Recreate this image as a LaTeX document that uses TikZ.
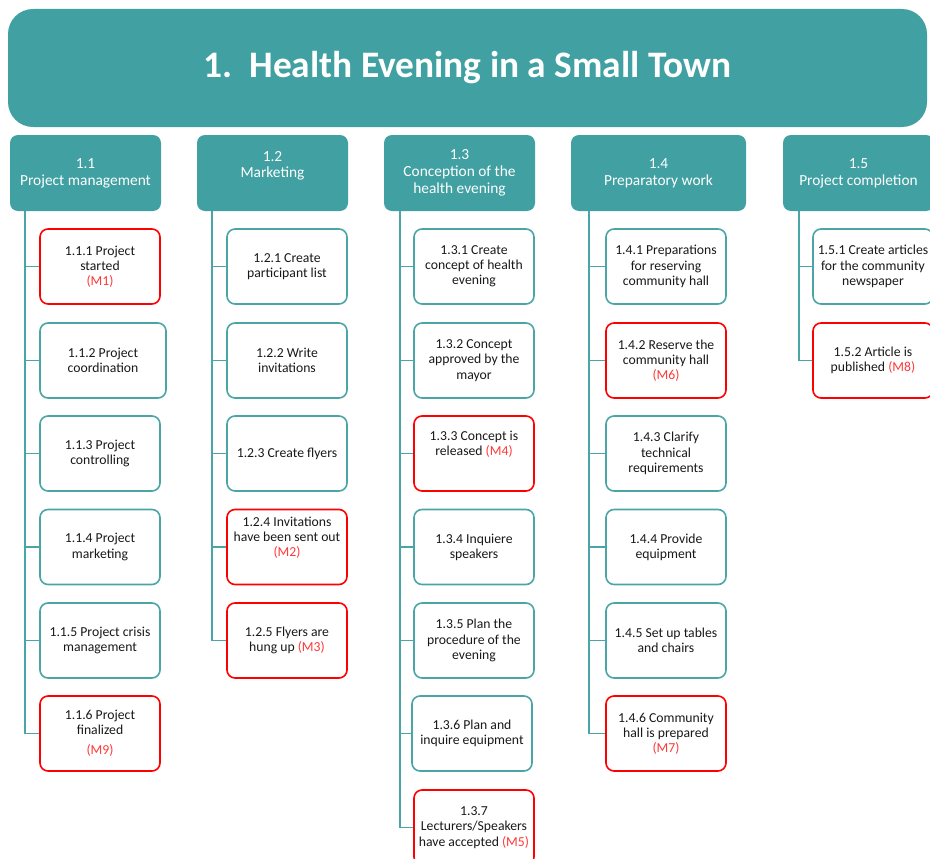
\documentclass[tikz,border=0pt]{standalone}
\usepackage{fontspec}
\setmainfont{Carlito}
\definecolor{teal1}{HTML}{40A0A2}
\definecolor{tealb}{HTML}{4AA5A7}
\definecolor{mred}{HTML}{FF0000}
\definecolor{mtxt}{HTML}{FF3838}
\newcommand{\ms}[1]{\textcolor{mtxt}{#1}}
\begin{document}
\begin{tikzpicture}[x=1pt,y=-1pt,
  titlebox/.style={fill=teal1,draw=none,rounded corners=25pt,minimum width=919pt,minimum height=118pt,inner sep=0pt,text=white,font=\fontsize{37.4}{44}\selectfont\bfseries},
  headbox/.style={fill=teal1,draw=none,rounded corners=8pt,minimum width=151pt,minimum height=76pt,inner sep=0pt,text=white,align=center,font=\fontsize{15.4}{16.8}\selectfont},
  task/.style={draw=tealb,line width=1.6pt,fill=white,rounded corners=8pt,minimum width=120pt,minimum height=75pt,inner sep=0pt,align=center,text=black!90,font=\fontsize{13.7}{15.2}\selectfont},
  mile/.style={task,draw=mred},
  conn/.style={draw=tealb,line width=1.8pt}]
\useasboundingbox (0,0) rectangle (930,859);
\node[titlebox] (title) at (467.5,68) {1.\ \ Health Evening in a Small Town};
\node[headbox] (h11) at (85.5,173) {1.1\\Project management};
\node[headbox] (h12) at (272.5,173) {1.2\\Marketing\\\mbox{}};
\node[headbox] (h13) at (459.5,173) {1.3\\Conception of the\\health evening};
\node[headbox,minimum width=175pt] (h14) at (658.5,173) {1.4\\Preparatory work};
\node[headbox] (h15) at (858.5,173) {1.5\\Project completion};
% column 1
\node[mile] (b111) at (100,266.5) {1.1.1 Project\\started\\\ms{(M1)}};
\node[task,minimum width=126pt] (b112) at (103,360.5) {1.1.2 Project\\coordination};
\node[task] (b113) at (100,453.5) {1.1.3 Project\\controlling};
\node[task] (b114) at (100,547) {1.1.4 Project\\marketing};
\node[task] (b115) at (100,640.5) {1.1.5 Project crisis\\management};
\node[mile] (b116) at (100,733.5) {1.1.6 Project\\finalized\\[5pt]\ms{(M9)}};
% column 2
\node[task] (b121) at (287,266.5) {1.2.1 Create\\participant list};
\node[task] (b122) at (287,360.5) {1.2.2 Write\\invitations};
\node[task] (b123) at (287,453.5) {1.2.3 Create flyers};
\node[mile] (b124) at (287,547) {1.2.4 Invitations\\have been sent out\\\ms{(M2)}\\[5pt]\mbox{}};
\node[mile] (b125) at (287,640.5) {1.2.5 Flyers are\\hung up \ms{(M3)}};
% column 3
\node[task] (b131) at (474,266.5) {1.3.1 Create\\concept of health\\evening};
\node[task] (b132) at (474,360.5) {1.3.2 Concept\\approved by the\\mayor};
\node[mile] (b133) at (474,453.5) {1.3.3 Concept is\\released \ms{(M4)}\\[5pt]\mbox{}};
\node[task] (b134) at (474,547) {1.3.4 Inquiere\\speakers};
\node[task] (b135) at (474,640.5) {1.3.5 Plan the\\procedure of the\\evening};
\node[task] (b136) at (472,733.5) {1.3.6 Plan and\\inquire equipment};
\node[mile] (b137) at (474,827.5) {1.3.7\\Lecturers/Speakers\\have accepted \ms{(M5)}};
% column 4
\node[task] (b141) at (666,266.5) {1.4.1 Preparations\\for reserving\\community hall};
\node[mile] (b142) at (666,360.5) {1.4.2 Reserve the\\community hall\\\ms{(M6)}};
\node[task] (b143) at (666,453.5) {1.4.3 Clarify\\technical\\requirements};
\node[task] (b144) at (666,547) {1.4.4 Provide\\equipment};
\node[task] (b145) at (666,640.5) {1.4.5 Set up tables\\and chairs};
\node[mile] (b146) at (666,733.5) {1.4.6 Community\\hall is prepared\\\ms{(M7)}};
% column 5
\node[task] (b151) at (873,266.5) {1.5.1 Create articles\\for the community\\newspaper};
\node[mile] (b152) at (873,360.5) {1.5.2 Article is\\published \ms{(M8)}};
% connectors
\foreach \b in {b111,b112,b113,b114,b115,b116}
  \draw[conn] ([xshift=15pt]h11.south west) |- (\b.west);
\foreach \b in {b121,b122,b123,b124,b125}
  \draw[conn] ([xshift=15pt]h12.south west) |- (\b.west);
\foreach \b in {b131,b132,b133,b134,b135,b136,b137}
  \draw[conn] ([xshift=16pt]h13.south west) |- (\b.west);
\foreach \b in {b141,b142,b143,b144,b145,b146}
  \draw[conn] ([xshift=18pt]h14.south west) |- (\b.west);
\foreach \b in {b151,b152}
  \draw[conn] ([xshift=16pt]h15.south west) |- (\b.west);
\end{tikzpicture}
\end{document}
